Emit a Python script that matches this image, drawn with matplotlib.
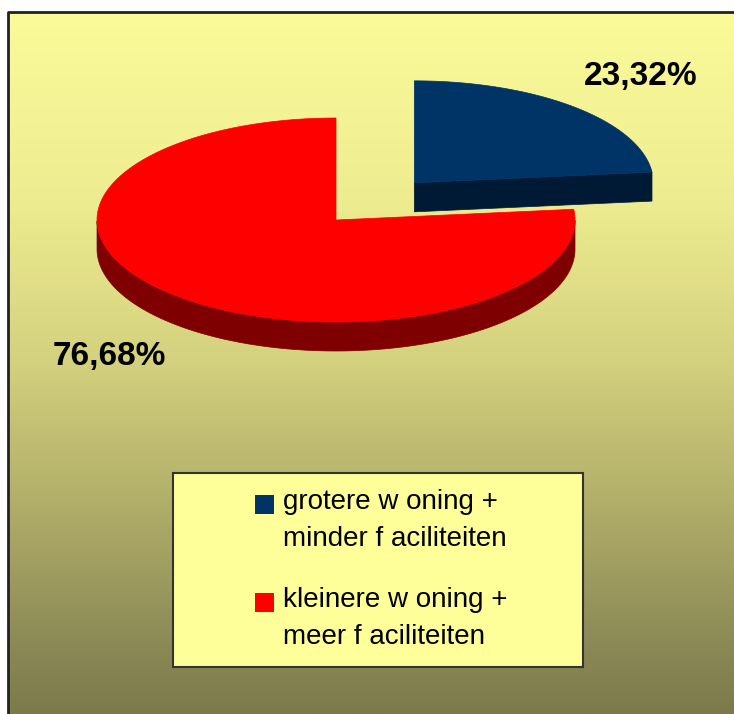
import numpy as np
import matplotlib
matplotlib.use("Agg")
from matplotlib import pyplot as plt
from matplotlib.patches import Polygon, Rectangle

# data
labels = ["grotere w oning +\nminder f aciliteiten",
          "kleinere w oning +\nmeer f aciliteiten"]
shares = [23.32, 76.68]
top_colors = ["#003366", "#FF0000"]
side_colors = ["#001A35", "#7F0000"]
explode = [0.49, 0.0]

plt.rcParams['font.family'] = ['Liberation Sans', 'DejaVu Sans']

W, H = 734, 714
fig = plt.figure(figsize=(W / 100, H / 100), dpi=100)
ax = fig.add_axes([0, 0, 1, 1])
ax.set_xlim(0, W)
ax.set_ylim(H, 0)
ax.axis('off')

# background gradient (light yellow -> olive)
ys = np.array([12, 200, 350, 500, 650, 714])
cols = np.array([[251, 251, 154], [238, 236, 144], [214, 211, 128],
                 [178, 175, 106], [138, 136, 85], [123, 122, 75]]) / 255.0
yy = np.linspace(12, 714, 400)
grad = np.stack([np.interp(yy, ys, cols[:, k]) for k in range(3)], axis=1)
ax.imshow(grad[:, None, :], extent=[8, W, H, 12], aspect='auto', zorder=0)
ax.plot([8, 8, W], [H, 12, 12], color='#222222', lw=2, zorder=1)

# 3D pie
cx, cy = 336, 220
a, b = 239, 102
depth = 29
start = 90.0

def ell(x0, y0, th, dz=0):
    t = np.radians(th)
    return np.column_stack([x0 + a * np.cos(t), y0 - b * np.sin(t) + dz])

angles = []
cur = start
for s in shares:
    sweep = s / 100.0 * 360.0
    angles.append((cur - sweep, cur))
    cur -= sweep

# draw exploded (back) slice first, then main slice
order = [0, 1]
for i in order:
    t0, t1 = angles[i]
    mid = np.radians((t0 + t1) / 2)
    x0 = cx + explode[i] * a * np.cos(mid)
    y0 = cy - explode[i] * b * np.sin(mid)
    # outer wall (front-facing part)
    lo = max(t0, -180.0) if t1 > -180 else t0
    ths = np.linspace(t0, t1, 400)
    front = ths[np.sin(np.radians(ths)) < 0]
    if len(front) > 1:
        topc = ell(x0, y0, front)
        botc = ell(x0, y0, front[::-1], depth)
        ax.add_patch(Polygon(np.vstack([topc, botc]), closed=True,
                             fc=side_colors[i], ec=side_colors[i], lw=0.5, zorder=2))
    # radial cut faces facing the viewer
    for th, sgn in [(t0, -1), (t1, 1)]:
        nrm = np.radians(th + sgn * 90)
        if np.sin(nrm) < -0.01:
            p = ell(x0, y0, [th])[0]
            face = [[x0, y0], p, [p[0], p[1] + depth], [x0, y0 + depth]]
            ax.add_patch(Polygon(face, closed=True, fc=side_colors[i],
                                 ec=side_colors[i], lw=0.5, zorder=2))
    # top
    arc = ell(x0, y0, np.linspace(t0, t1, 400))
    ax.add_patch(Polygon(np.vstack([[x0, y0], arc]), closed=True,
                         fc=top_colors[i], ec=top_colors[i], lw=0.5, zorder=2))

# value labels
label_pos = [(641, 76), (109, 356)]
for s, (lx, ly) in zip(shares, label_pos):
    ax.text(lx, ly, f"{s:.2f}%".replace('.', ','), fontsize=24, fontweight='bold',
            ha='center', va='center', color='black', zorder=5)

# legend
ax.add_patch(Rectangle((173, 473), 410, 194, fc='#FFFF99', ec='#333333', lw=1.5, zorder=3))
for i, lab in enumerate(labels):
    base = 509 + i * 98
    ax.add_patch(Rectangle((255, base - 14 - 0), 19, 19, fc=top_colors[i], ec='none', zorder=4))
    for j, line in enumerate(lab.split('\n')):
        ax.text(283, base + j * 37, line, fontsize=20, ha='left', va='baseline',
                color='black', zorder=4)

fig.savefig("out.png", dpi=100)
